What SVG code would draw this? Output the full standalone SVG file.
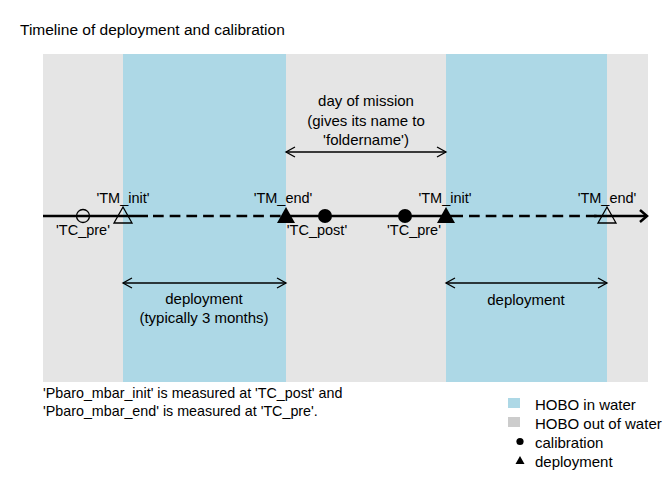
<svg xmlns="http://www.w3.org/2000/svg" width="672" height="480" viewBox="0 0 672 480">
<style>
text{font-family:"Liberation Sans",Arial,sans-serif;fill:#000}
.lab{font-size:14.5px;text-anchor:middle}
.mid{font-size:15px;text-anchor:middle}
.leg{font-size:15px}
.note{font-size:14.3px}
.tl{stroke:#000;stroke-width:2.5;fill:none}
.dash{stroke-dasharray:10.7 6}
.dbl{stroke:#000;stroke-width:1.3;fill:none}
.ah{stroke:#000;stroke-width:1.3;fill:none}
.open{fill:none;stroke:#000;stroke-width:1.3}
</style>
<rect x="0" y="0" width="672" height="480" fill="#fff"/>
<g id="background">
<rect x="43" y="54" width="605" height="328" fill="#e5e5e5"/>
<rect x="123" y="54" width="163" height="328" fill="#add8e6"/>
<rect x="446" y="54" width="161" height="328" fill="#add8e6"/>
</g>
<text x="20" y="35" style="font-size:15.5px">Timeline of deployment and calibration</text>
<g id="connectors">
<line class="tl" x1="43" y1="216" x2="148" y2="216"/>
<line class="tl dash" x1="153" y1="216" x2="286" y2="216"/>
<line class="tl" x1="286" y1="216" x2="463" y2="216"/>
<line class="tl dash" x1="469" y1="216" x2="600" y2="216"/>
<line class="tl" x1="594" y1="216" x2="647" y2="216"/>
<polyline class="tl" points="640,210 647,216 640,222"/>
<line class="dbl" x1="286" y1="152" x2="446" y2="152"/>
<polyline class="ah" points="295,147 286,152 295,157"/>
<polyline class="ah" points="437,147 446,152 437,157"/>
<line class="dbl" x1="123" y1="283" x2="286" y2="283"/>
<polyline class="ah" points="132,278 123,283 132,288"/>
<polyline class="ah" points="277,278 286,283 277,288"/>
<line class="dbl" x1="446" y1="283" x2="607" y2="283"/>
<polyline class="ah" points="455,278 446,283 455,288"/>
<polyline class="ah" points="598,278 607,283 598,288"/>
</g>
<g id="tc-pre-1"><circle class="open" cx="83" cy="216" r="6.5"/><text class="lab" x="83" y="235">'TC_pre'</text></g>
<g id="tm-init-1"><polygon class="open" points="123,207 132,223 114,223"/><text class="lab" x="123" y="203">'TM_init'</text></g>
<g id="tm-end-1"><polygon points="286,207 295,223 277,223" fill="#000"/><text class="lab" x="283" y="203">'TM_end'</text></g>
<g id="tc-post"><circle cx="325" cy="216" r="7" fill="#000"/><text class="lab" x="317" y="235">'TC_post'</text></g>
<g id="tc-pre-2"><circle cx="405" cy="216" r="7" fill="#000"/><text class="lab" x="414" y="235">'TC_pre'</text></g>
<g id="tm-init-2"><polygon points="446,207 455,223 437,223" fill="#000"/><text class="lab" x="445" y="203">'TM_init'</text></g>
<g id="tm-end-2"><polygon class="open" points="607,207 616,223 598,223"/><text class="lab" x="607" y="203">'TM_end'</text></g>
<g id="day-of-mission">
<text class="mid" x="366" y="106">day of mission</text>
<text class="mid" x="366" y="126">(gives its name to</text>
<text class="mid" x="366" y="145">'foldername')</text>
</g>
<g id="deployment-1">
<text class="mid" x="204" y="304">deployment</text>
<text class="mid" x="204" y="323">(typically 3 months)</text>
</g>
<g id="deployment-2"><text class="mid" x="526" y="305">deployment</text></g>
<g id="note">
<text class="note" x="43" y="398">'Pbaro_mbar_init' is measured at 'TC_post' and</text>
<text class="note" x="43" y="416">'Pbaro_mbar_end' is measured at 'TC_pre'.</text>
</g>
<g id="legend">
<rect x="508" y="398" width="12" height="10" fill="#add8e6"/>
<text class="leg" x="535" y="410">HOBO in water</text>
<rect x="508" y="417" width="12" height="10" fill="#cccccc"/>
<text class="leg" x="535" y="429">HOBO out of water</text>
<circle cx="520" cy="441.5" r="3.6" fill="#000"/>
<text class="leg" x="535" y="448">calibration</text>
<polygon points="520,456 524.5,464 515.5,464" fill="#000"/>
<text class="leg" x="535" y="467">deployment</text>
</g>
</svg>
